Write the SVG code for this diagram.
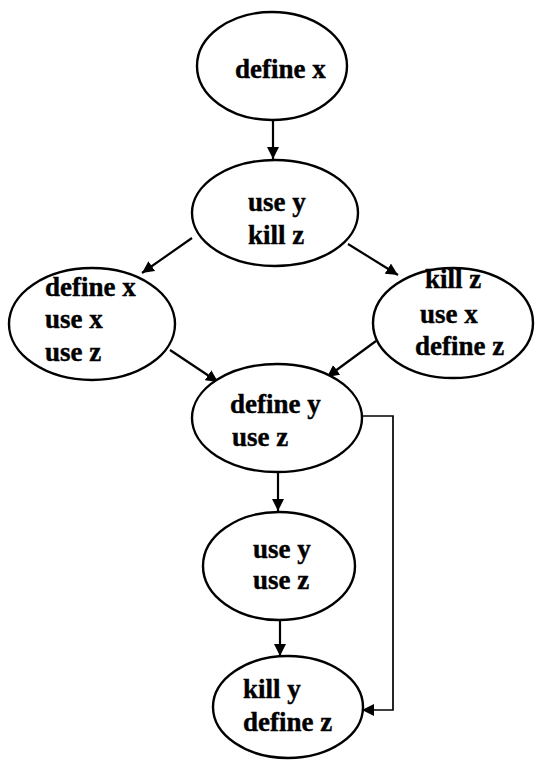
<svg xmlns="http://www.w3.org/2000/svg" width="537" height="760" viewBox="0 0 537 760">
  <defs>
    <style>
      .node ellipse { fill: #ffffff; stroke: #000000; stroke-width: 2.4; }
      .node text { font-family: "Liberation Serif", "Times New Roman", serif; font-weight: bold; font-size: 27px; fill: #000000; stroke: #000000; stroke-width: 0.4; }
      .edge { fill: none; stroke: #000000; stroke-width: 2.2; }
      .edge.thin { stroke-width: 1.7; }
    </style>
    <marker id="arrow" markerUnits="userSpaceOnUse" markerWidth="14" markerHeight="12" refX="12" refY="6" orient="auto">
      <path d="M0,0 L12,6 L0,12 Z" fill="#000000"/>
    </marker>
  </defs>
  <rect x="0" y="0" width="537" height="760" fill="#ffffff"/>

  <g id="connectors">
    <line class="edge" x1="273" y1="120" x2="273" y2="159" marker-end="url(#arrow)"/>
    <line class="edge" x1="192" y1="238" x2="142" y2="273" marker-end="url(#arrow)"/>
    <line class="edge" x1="348" y1="244" x2="398" y2="275" marker-end="url(#arrow)"/>
    <line class="edge" x1="170" y1="350" x2="218" y2="382" marker-end="url(#arrow)"/>
    <line class="edge" x1="376" y1="341" x2="327" y2="377" marker-end="url(#arrow)"/>
    <line class="edge" x1="278" y1="473" x2="278" y2="511" marker-end="url(#arrow)"/>
    <line class="edge" x1="280" y1="620" x2="280" y2="656" marker-end="url(#arrow)"/>
    <polyline class="edge thin" points="362,416 393,416 393,710 362,710" marker-end="url(#arrow)"/>
  </g>

  <g id="n1" class="node">
    <ellipse cx="272" cy="66" rx="75" ry="54"/>
    <text x="235" y="78">define x</text>
  </g>
  <g id="n2" class="node">
    <ellipse cx="275" cy="213" rx="83" ry="53"/>
    <text x="248" y="211">use y</text>
    <text x="248" y="244">kill z</text>
  </g>
  <g id="n3" class="node">
    <ellipse cx="92" cy="324" rx="83" ry="56"/>
    <text x="45" y="296">define x</text>
    <text x="45" y="328">use x</text>
    <text x="45" y="361">use z</text>
  </g>
  <g id="n4" class="node">
    <ellipse cx="453" cy="323" rx="80" ry="55"/>
    <text x="425" y="288">kill z</text>
    <text x="420" y="323">use x</text>
    <text x="415" y="355">define z</text>
  </g>
  <g id="n5" class="node">
    <ellipse cx="277" cy="418" rx="85" ry="54"/>
    <text x="230" y="413">define y</text>
    <text x="232" y="446">use z</text>
  </g>
  <g id="n6" class="node">
    <ellipse cx="279" cy="566" rx="76" ry="54"/>
    <text x="253" y="558">use y</text>
    <text x="253" y="589">use z</text>
  </g>
  <g id="n7" class="node">
    <ellipse cx="288" cy="707" rx="75" ry="51"/>
    <text x="243" y="698">kill y</text>
    <text x="243" y="731">define z</text>
  </g>
</svg>
